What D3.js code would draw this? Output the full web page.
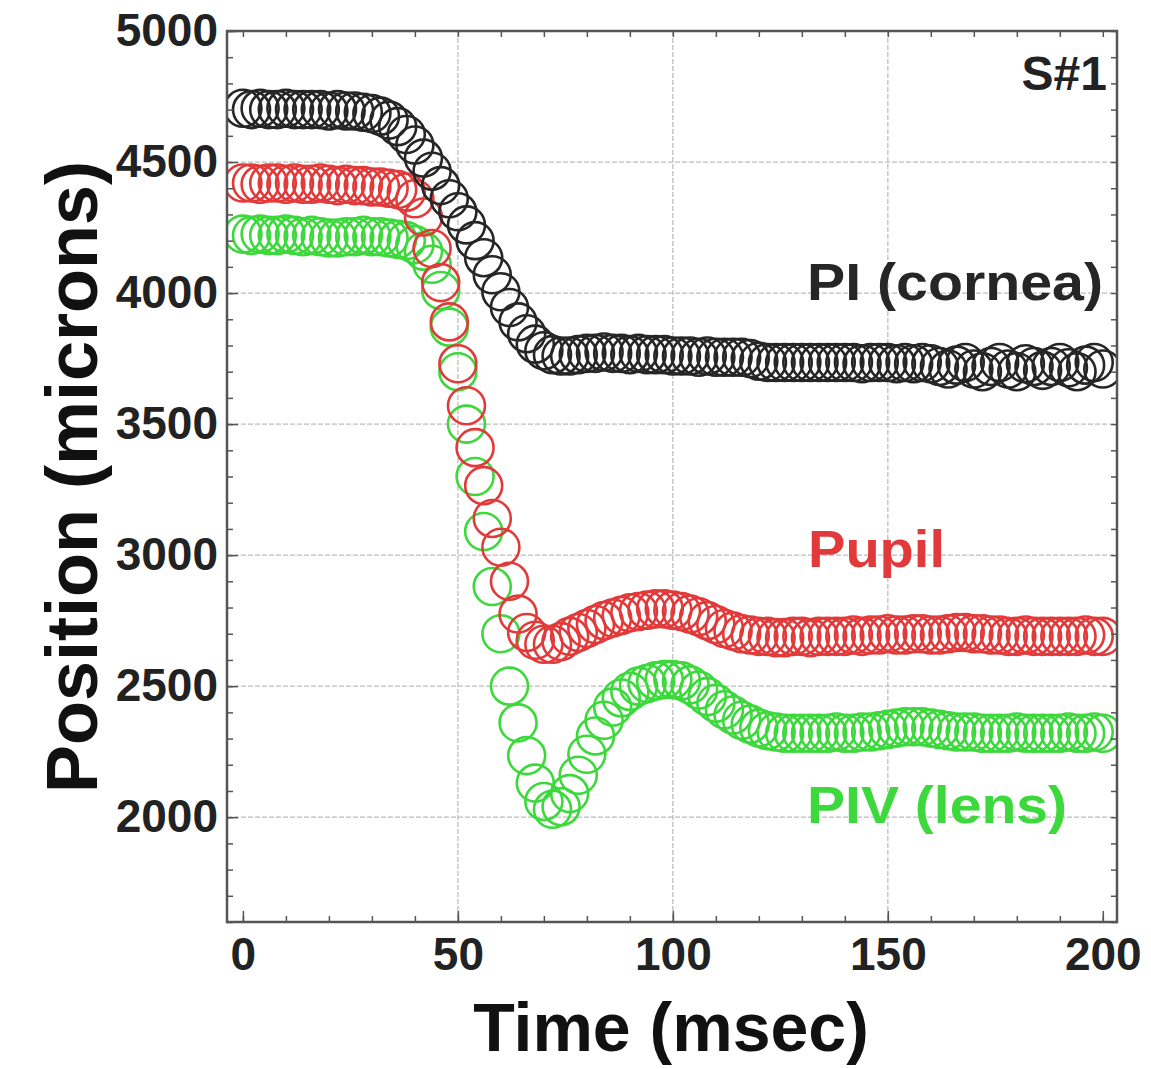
<html>
<head>
    <style>
        body { margin: 0; background: #fff; }
        text { font-family: "Liberation Sans", Arial, sans-serif; font-weight: bold; }
        .grid line { stroke: #bdbdbd; stroke-width: 1.3px; stroke-dasharray: 5,2; }
        .axis path { display: none; }
        .axis line { stroke: #555; stroke-width: 1.5px; }
        .axis text { fill: #222; font-size: 46px; }
    </style>
</head>
<body>
    <script src="https://d3js.org/d3.v7.min.js"></script>
    <script>
        var width = 1151, height = 1069;

        // sample times (msec)
        var times = [0, 2, 4, 6, 8, 10, 12, 14, 16, 18, 20, 22, 24, 26, 28, 30, 32, 34, 36, 38,
            40, 42, 44, 46, 48, 50, 52, 54, 56, 58, 60, 62, 64, 66, 68, 70, 72, 74, 76, 78,
            80, 82, 84, 86, 88, 90, 92, 94, 96, 98, 100, 102, 104, 106, 108, 110, 112, 114, 116, 118,
            120, 122, 124, 126, 128, 130, 132, 134, 136, 138, 140, 142, 144, 146, 148, 150, 152, 154, 156, 158,
            160, 162, 164, 166, 168, 170, 172, 174, 176, 178, 180, 182, 184, 186, 188, 190, 192, 194, 196, 198, 200];

        // PI (cornea)
        var cornea = [4705, 4700, 4705, 4700, 4700, 4705, 4700, 4700, 4700, 4700, 4695, 4700, 4695, 4695, 4690, 4685, 4675, 4660, 4635, 4605,
            4565, 4515, 4465, 4410, 4360, 4310, 4260, 4200, 4135, 4070, 4005, 3945, 3890, 3845, 3805, 3780, 3765, 3760, 3760, 3765,
            3770, 3770, 3775, 3770, 3770, 3765, 3770, 3765, 3765, 3765, 3760, 3760, 3760, 3755, 3760, 3755, 3755, 3755, 3755, 3750,
            3740, 3735, 3735, 3735, 3735, 3735, 3735, 3735, 3735, 3735, 3735, 3735, 3730, 3735, 3735, 3735, 3730, 3735, 3730, 3735,
            3730, 3720, 3710, 3725, 3735, 3710, 3700, 3720, 3735, 3710, 3700, 3730, 3720, 3705, 3720, 3735, 3715, 3700, 3725, 3735, 3710];

        // Pupil
        var pupil = [4420, 4420, 4415, 4420, 4420, 4415, 4420, 4415, 4415, 4420, 4415, 4410, 4415, 4410, 4410, 4405, 4405, 4400, 4395, 4385,
            4360, 4290, 4170, 4040, 3890, 3730, 3570, 3410, 3265, 3140, 3030, 2900, 2775, 2705, 2675, 2660, 2660, 2670, 2690, 2705,
            2720, 2735, 2750, 2760, 2770, 2780, 2785, 2790, 2795, 2795, 2790, 2785, 2775, 2765, 2750, 2735, 2720, 2710, 2700, 2695,
            2690, 2690, 2685, 2685, 2690, 2690, 2685, 2690, 2690, 2690, 2690, 2695, 2690, 2695, 2695, 2700, 2695, 2695, 2700, 2700,
            2695, 2695, 2700, 2705, 2705, 2700, 2700, 2695, 2695, 2690, 2690, 2695, 2690, 2690, 2690, 2690, 2690, 2690, 2695, 2690, 2690];

        // PIV (lens)
        var lens = [4225, 4220, 4225, 4220, 4220, 4225, 4220, 4215, 4220, 4215, 4210, 4210, 4215, 4215, 4220, 4215, 4215, 4210, 4205, 4200,
            4185, 4160, 4110, 4010, 3870, 3700, 3500, 3300, 3090, 2880, 2700, 2500, 2360, 2235, 2130, 2060, 2030, 2040, 2090, 2160,
            2240, 2310, 2370, 2420, 2455, 2480, 2500, 2510, 2520, 2525, 2525, 2520, 2505, 2485, 2460, 2435, 2410, 2390, 2370, 2355,
            2340, 2330, 2325, 2320, 2320, 2320, 2320, 2320, 2320, 2325, 2320, 2320, 2325, 2325, 2330, 2335, 2340, 2345, 2345, 2345,
            2340, 2335, 2330, 2325, 2325, 2325, 2320, 2320, 2320, 2320, 2325, 2320, 2320, 2320, 2320, 2320, 2325, 2320, 2320, 2325, 2320];

        var xMajor = [0, 50, 100, 150, 200];
        var yMajor = [2000, 2500, 3000, 3500, 4000, 4500, 5000];

        var series = [
            { name: "PIV (lens)", values: lens, color: "#3cd83c", lx: 807, ly: 823, lw: 260 },
            { name: "Pupil", values: pupil, color: "#e23a3a", lx: 808, ly: 567, lw: 137 },
            { name: "PI (cornea)", values: cornea, color: "#262626", lx: 807, ly: 300, lw: 296 }
        ];

        var plotL = 227, plotR = 1117, plotT = 31, plotB = 922;

        var x = d3.scaleLinear().domain([-3.7, 203.3]).range([plotL, plotR]);
        var y = d3.scaleLinear().domain([1600, 5000]).range([plotB, plotT]);

        var svg = d3.select("body")
            .append("svg")
            .attr("width", width)
            .attr("height", height);

        svg.append("clipPath").attr("id", "plotclip")
            .append("rect")
            .attr("x", plotL).attr("y", plotT)
            .attr("width", plotR - plotL).attr("height", plotB - plotT);

        // grid
        var grid = svg.append("g").attr("class", "grid");
        grid.selectAll("line.h")
            .data(yMajor.filter(function (d) { return d < 5000; }))
            .enter().append("line")
            .attr("x1", plotL).attr("x2", plotR)
            .attr("y1", function (d) { return y(d); })
            .attr("y2", function (d) { return y(d); });
        grid.selectAll("line.v")
            .data(xMajor.filter(function (d) { return d > 0 && d < 200; }))
            .enter().append("line")
            .attr("y1", plotT).attr("y2", plotB)
            .attr("x1", function (d) { return x(d); })
            .attr("x2", function (d) { return x(d); });

        // data circles
        var marks = svg.append("g").attr("clip-path", "url(#plotclip)");
        series.forEach(function (s) {
            marks.append("g")
                .selectAll("circle")
                .data(times)
                .enter().append("circle")
                .attr("cx", function (d) { return x(d); })
                .attr("cy", function (d, i) { return y(s.values[i]); })
                .attr("r", 18.5)
                .attr("fill", "none")
                .attr("stroke", s.color)
                .attr("stroke-width", 2.6);
        });

        // minor ticks
        var xMinor = d3.range(0, 201, 10);
        var yMinor = d3.range(1600, 5001, 100);

        svg.append("g").attr("class", "axis").attr("transform", "translate(0," + plotB + ")")
            .call(d3.axisBottom(x).tickValues(xMinor).tickSize(-6).tickFormat(""));
        svg.append("g").attr("class", "axis").attr("transform", "translate(0," + plotT + ")")
            .call(d3.axisTop(x).tickValues(xMinor).tickSize(-6).tickFormat(""));
        svg.append("g").attr("class", "axis").attr("transform", "translate(" + plotL + ",0)")
            .call(d3.axisLeft(y).tickValues(yMinor).tickSize(-6).tickFormat(""));
        svg.append("g").attr("class", "axis").attr("transform", "translate(" + plotR + ",0)")
            .call(d3.axisRight(y).tickValues(yMinor).tickSize(-6).tickFormat(""));

        // major ticks + labels
        svg.append("g").attr("class", "axis").attr("transform", "translate(0," + plotB + ")")
            .call(d3.axisBottom(x).tickValues(xMajor).tickSize(-11).tickPadding(15).tickFormat(d3.format("d")));
        svg.append("g").attr("class", "axis").attr("transform", "translate(" + plotL + ",0)")
            .call(d3.axisLeft(y).tickValues(yMajor).tickSize(-11).tickPadding(9).tickFormat(d3.format("d")));

        // frame
        svg.append("rect")
            .attr("x", plotL).attr("y", plotT)
            .attr("width", plotR - plotL).attr("height", plotB - plotT)
            .attr("fill", "none")
            .attr("stroke", "#555")
            .attr("stroke-width", 2.5);

        // series labels
        series.forEach(function (s) {
            svg.append("text")
                .attr("x", s.lx).attr("y", s.ly)
                .attr("fill", s.color)
                .attr("textLength", s.lw)
                .attr("lengthAdjust", "spacingAndGlyphs")
                .style("font-size", "52px")
                .text(s.name);
        });

        svg.append("text")
            .attr("x", 1107).attr("y", 90)
            .attr("text-anchor", "end")
            .attr("fill", "#222")
            .style("font-size", "48px")
            .text("S#1");

        // axis titles
        svg.append("text")
            .attr("x", 671).attr("y", 1051)
            .attr("text-anchor", "middle")
            .attr("fill", "#111")
            .style("font-size", "68px")
            .text("Time (msec)");

        svg.append("text")
            .attr("transform", "translate(97,477) rotate(-90)")
            .attr("text-anchor", "middle")
            .attr("fill", "#111")
            .style("font-size", "72px")
            .text("Position (microns)");
    </script>
</body>
</html>
